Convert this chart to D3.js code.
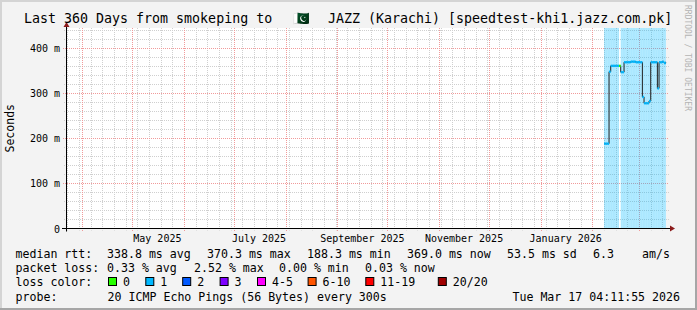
<!DOCTYPE html>
<html><head><meta charset="utf-8">
<script src="https://cdn.jsdelivr.net/npm/d3@7"></script>
<style>html,body{margin:0;padding:0;background:#f3f3f3;}svg{display:block;}</style>
</head><body>
<svg id="c" width="697" height="310"></svg>
<script>
// ---------- data ----------
const titleParts = ["Last 360 Days from smokeping to ", "🇵🇰", " JAZZ (Karachi) [speedtest-khi1.jazz.com.pk]"];
const rangeStart = "2025-03-22T04:11:55Z";
const rangeEnd = "2026-03-17T04:11:55Z";
const dayDates = ["2026-02-08","2026-02-09","2026-02-10","2026-02-11","2026-02-12","2026-02-13","2026-02-14","2026-02-15","2026-02-16","2026-02-17","2026-02-18","2026-02-19","2026-02-20","2026-02-21","2026-02-22","2026-02-23","2026-02-24","2026-02-25","2026-02-26","2026-02-27","2026-02-28","2026-03-01","2026-03-02","2026-03-03","2026-03-04","2026-03-05","2026-03-06","2026-03-07","2026-03-08","2026-03-09","2026-03-10","2026-03-11","2026-03-12","2026-03-13","2026-03-14","2026-03-15","2026-03-16","2026-03-17"];
const medianMs = [188.3,188.3,188.3,348,361,361,361,361,361,361,347,347,369,369,369,369,370.3,370.3,370.3,369,369,369,369,292,278,278,278,283,369,369,369,369,311,369,369,370,367,369];
const lossBucket = [1,1,1,1,1,1,1,1,1,0,1,1,1,1,1,1,1,1,1,1,1,1,1,1,1,1,1,1,1,1,1,1,1,1,1,1,1,1];
const yTicks = [0,100,200,300,400];
const xLabelMonths = ["2025-05-01","2025-07-01","2025-09-01","2025-11-01","2026-01-01"];
const xLabels = ["May 2025","July 2025","September 2025","November 2025","January 2026"];
const lossLabels = ["0","1","2","3","4-5","6-10","11-19","20/20"];
const lossColors = ["#26ff00","#00b8ff","#0059ff","#7e00ff","#ff00ff","#ff5500","#ff0000","#a00000"];
const rttStats = ["338.8 ms avg","370.3 ms max","188.3 ms min","369.0 ms now","53.5 ms sd","6.3","am/s"];
const lossStats = ["0.33 % avg","2.52 % max","0.00 % min","0.03 % now"];
const probeText = "20 ICMP Echo Pings (56 Bytes) every 300s";
const stampText = "Tue Mar 17 04:11:55 2026";

// ---------- layout ----------
const W = 697, H = 310;
const L = 66, R = 666, T = 28, B = 228.5;
const mono = "'DejaVu Sans Mono', monospace";
const svg = d3.select("#c");

// frame
svg.append("rect").attr("width", W).attr("height", H).attr("fill", "#f3f3f3");
svg.append("rect").attr("x",0).attr("y",0).attr("width",W).attr("height",2).attr("fill","#d4d4d4");
svg.append("rect").attr("x",0).attr("y",0).attr("width",2).attr("height",H).attr("fill","#d4d4d4");
svg.append("rect").attr("x",W-2).attr("y",0).attr("width",2).attr("height",H).attr("fill","#a6a6a6");
svg.append("rect").attr("x",0).attr("y",H-2).attr("width",W).attr("height",2).attr("fill","#a6a6a6");

const start = new Date(rangeStart), end = new Date(rangeEnd);
const x = d3.scaleUtc().domain([start, end]).range([L, R]);
const y = d3.scaleLinear().domain([0, 445]).range([B, T]);

// canvas
svg.append("rect").attr("x", L).attr("y", T).attr("width", R - L).attr("height", B - T).attr("fill", "#fff");

const days = dayDates.map(d => new Date(d + "T00:00:00Z"));
const dayEnd = i => i + 1 < days.length ? days[i + 1] : end;

// grid
const g = svg.append("g");
const yMinor = d3.range(0, 445, 20).filter(v => v % 100 !== 0);
g.selectAll(".hm").data(yMinor).join("line")
  .attr("x1", L - 2).attr("x2", R + 3).attr("y1", d => Math.round(y(d)) + 0.5).attr("y2", d => Math.round(y(d)) + 0.5)
  .attr("stroke", "#cfcfcf").attr("stroke-dasharray", "1,1");
const weeks = d3.utcSunday.range(start, end);
g.selectAll(".vm").data(weeks).join("line")
  .attr("x1", d => Math.round(x(d)) + 0.5).attr("x2", d => Math.round(x(d)) + 0.5).attr("y1", T).attr("y2", B + 2)
  .attr("stroke", "#cfcfcf").attr("stroke-dasharray", "1,1");
g.selectAll(".hM").data(yTicks.filter(v => v > 0)).join("line")
  .attr("x1", L - 3).attr("x2", R + 3).attr("y1", d => Math.round(y(d)) + 0.5).attr("y2", d => Math.round(y(d)) + 0.5)
  .attr("stroke", "#f19a9a").attr("stroke-dasharray", "1,1");
const months = d3.utcMonth.range(start, end);
g.selectAll(".vM").data(months).join("line")
  .attr("x1", d => Math.round(x(d)) + 0.5).attr("x2", d => Math.round(x(d)) + 0.5).attr("y1", T).attr("y2", B + 3)
  .attr("stroke", "#f19a9a").attr("stroke-dasharray", "1,1");

// loss background
svg.append("g").selectAll("rect").data(days.map((d, i) => i).filter(i => lossBucket[i] > 0)).join("rect")
  .attr("x", i => x(days[i])).attr("width", i => x(dayEnd(i)) - x(days[i]))
  .attr("y", T).attr("height", B - T)
  .attr("fill", i => lossColors[lossBucket[i]]).attr("fill-opacity", 0.33);

// median line
const pts = days.map((d, i) => [d, medianMs[i]]);
pts.push([end, medianMs[medianMs.length - 1]]);
svg.append("path").datum(pts)
  .attr("d", d3.line().x(d => x(d[0])).y(d => y(d[1])).curve(d3.curveStepAfter))
  .attr("fill", "none").attr("stroke", "#202020").attr("stroke-width", 1);
// loss colored bands
svg.append("g").selectAll("rect").data(days.map((d, i) => i)).join("rect")
  .attr("x", i => x(days[i])).attr("width", i => x(dayEnd(i)) - x(days[i]))
  .attr("y", i => y(medianMs[i]) - 1.2).attr("height", 2.4)
  .attr("fill", i => lossColors[lossBucket[i]]);

// axes
const ax = svg.append("g");
ax.append("line").attr("x1", L - 4).attr("x2", R + 5).attr("y1", B).attr("y2", B).attr("stroke", "#000");
ax.append("line").attr("x1", L + 0.5).attr("x2", L + 0.5).attr("y1", B + 3).attr("y2", T - 1).attr("stroke", "#000");
ax.append("path").attr("d", `M${R + 4},${B - 3} L${R + 9},${B} L${R + 4},${B + 3}Z`).attr("fill", "#8b1a1a");
ax.append("path").attr("d", `M${L + 0.5 - 3},${T - 1} L${L + 0.5},${T - 6} L${L + 0.5 + 3},${T - 1}Z`).attr("fill", "#8b1a1a");

const yAxis = d3.axisLeft(y).tickValues(yTicks).tickSize(0).tickPadding(0)
  .tickFormat(v => v === 0 ? "0" : v + " m");
const ya = svg.append("g").attr("transform", `translate(${L - 6},0)`).call(yAxis);
ya.select(".domain").remove();
ya.selectAll("text").attr("font-family", mono).attr("font-size", "10px").attr("fill", "#000").attr("dy", "0.35em");

const xLab = svg.append("g");
xLab.selectAll("text").data(xLabelMonths).join("text")
  .attr("x", d => x(d3.utcDay.offset(new Date(d + "T00:00:00Z"), 15)))
  .attr("y", 242).attr("text-anchor", "middle")
  .attr("font-family", mono).attr("font-size", "10px").attr("fill", "#000")
  .text((d, i) => xLabels[i]);

// title
const title = svg.append("text").attr("y", 23).attr("font-family", mono).attr("font-size", "13.3px").attr("fill", "#000");
title.append("tspan").attr("x", 24).text(titleParts[0]);
title.append("tspan").attr("x", 293).text(titleParts[1]);
title.append("tspan").attr("x", 320).text(titleParts[2]);
// y title
svg.append("text").attr("transform", `translate(14,${(T + B) / 2}) rotate(-90)`).attr("text-anchor", "middle")
  .attr("font-family", mono).attr("font-size", "11.5px").attr("fill", "#000").text("Seconds");
// watermark
svg.append("text").attr("transform", `translate(685,5) rotate(90)`).attr("font-family", mono)
  .attr("font-size", "8px").attr("fill", "#b4b4b4").text("RRDTOOL / TOBI OETIKER");

// legend
const lf = "11.6px";
const leg = svg.append("g").attr("font-family", mono).attr("font-size", lf).attr("fill", "#000");
const rows = [258, 272, 286, 300.5];
leg.append("text").attr("x", 15.5).attr("y", rows[0]).text("median rtt:");
const rttX = [107, 207, 307, 407, 507, 593, 642];
leg.selectAll(".r").data(rttStats).join("text").attr("class","r").attr("x", (d, i) => rttX[i]).attr("y", rows[0]).text(d => d);
leg.append("text").attr("x", 15.5).attr("y", rows[1]).text("packet loss:");
const lossX = [107, 194, 279, 365];
leg.selectAll(".l").data(lossStats).join("text").attr("class","l").attr("x", (d, i) => lossX[i]).attr("y", rows[1]).text(d => d);
leg.append("text").attr("x", 15.5).attr("y", rows[2]).text("loss color:");
const boxX = [108, 145.3, 182.2, 219.6, 257, 307.6, 365.3, 437.8];
leg.selectAll(".b").data(lossColors).join("rect").attr("class","b")
  .attr("x", (d, i) => boxX[i] + 0.5).attr("y", rows[2] - 8.5).attr("width", 8).attr("height", 8)
  .attr("fill", d => d).attr("stroke", "#000").attr("stroke-width", 1);
leg.selectAll(".bl").data(lossLabels).join("text").attr("class","bl")
  .attr("x", (d, i) => boxX[i] + 15).attr("y", rows[2]).text(d => d);
leg.append("text").attr("x", 15.5).attr("y", rows[3]).text("probe:");
leg.append("text").attr("x", 107.6).attr("y", rows[3]).text(probeText);
leg.append("text").attr("x", 680).attr("y", rows[3]).attr("text-anchor", "end").text(stampText);
</script>
</body></html>
